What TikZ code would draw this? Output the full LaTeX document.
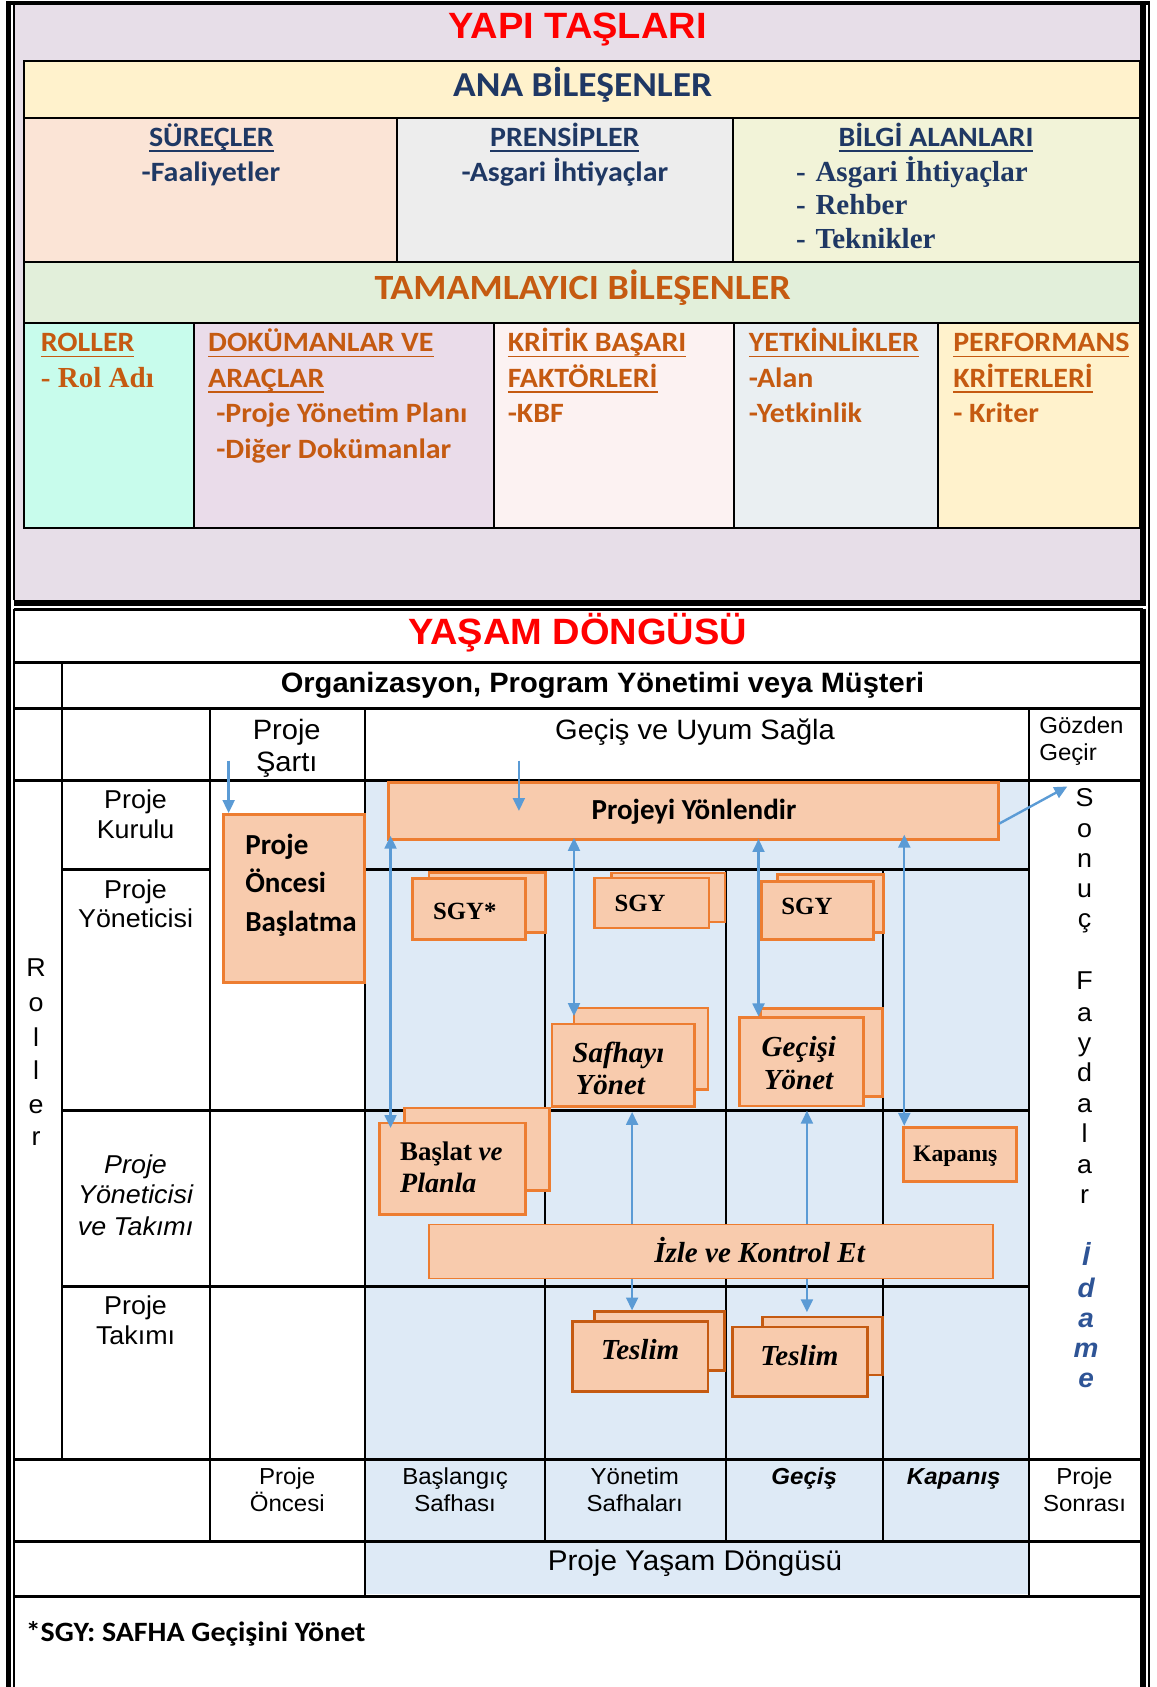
\documentclass[tikz,border=0pt]{standalone}
\usepackage{fontspec}
\setmainfont[FakeStretch=1.04]{Liberation Sans}
\newfontfamily\calfont[FakeStretch=1.07]{Carlito}
\newfontfamily\calbox{Carlito}
\newfontfamily\tmsfont{Liberation Serif}
\newcommand\myul[1]{\leavevmode\vtop{\hbox{\raisebox{0pt}[\height][0pt]{#1}}\kern3.5pt\hrule height 1.6pt}}
\usetikzlibrary{arrows.meta,fit,calc}
\newcommand\fsz[1]{\fontsize{#1}{#1}\selectfont}
\definecolor{lavbg}{RGB}{231,222,232}
\definecolor{anay}{RGB}{255,242,204}
\definecolor{navy}{RGB}{31,56,100}
\definecolor{surec}{RGB}{251,228,214}
\definecolor{prens}{RGB}{237,237,237}
\definecolor{bilgi}{RGB}{242,243,216}
\definecolor{tamam}{RGB}{226,239,218}
\definecolor{orng}{RGB}{197,90,17}
\definecolor{roll}{RGB}{200,252,236}
\definecolor{dokum}{RGB}{234,220,234}
\definecolor{krit}{RGB}{252,242,242}
\definecolor{yetk}{RGB}{234,239,242}
\definecolor{perf}{RGB}{255,242,204}
\definecolor{bluebg}{RGB}{222,234,246}
\definecolor{boxfill}{RGB}{248,203,173}
\definecolor{boxline}{RGB}{237,125,49}
\definecolor{tesline}{RGB}{197,90,17}
\definecolor{arrblue}{RGB}{91,155,213}
\definecolor{idame}{RGB}{46,84,150}
\tikzset{
  tx/.style={inner sep=0pt, outer sep=0pt},
  hl/.style={line width=2.8pt},
  vl/.style={line width=1.8pt},
  gl/.style={line width=2pt},
  obox/.style={draw=boxline, fill=boxfill, line width=2.6pt, inner sep=0pt},
  tbox/.style={obox, draw=tesline},
  thinbox/.style={obox, line width=1.3pt},
  arr/.style={draw=arrblue, line width=2.2pt, -{Triangle[width=11pt,length=12pt]}},
  darr/.style={draw=arrblue, line width=2.2pt, {Triangle[width=11pt,length=12pt]}-{Triangle[width=11pt,length=12pt]}},
  navyt/.style={tx, text=navy, font=\calfont\bfseries\fsz{26}},
  orgt/.style={tx, text=orng, font=\calfont\bfseries\fsz{26}},
  sert/.style={tx, font=\tmsfont\bfseries\fsz{27}},
  rolt/.style={tx, font=\fsz{24}},
  phat/.style={tx, font=\fsz{21.5}},
  lett/.style={tx, anchor=base, font=\fsz{24}},
  boxt/.style={tx, font=\calbox\bfseries\fsz{27}},
  boxs/.style={tx, font=\tmsfont\bfseries\itshape\fsz{27}},
}
\begin{document}
\begin{tikzpicture}[x=1pt,y=-1pt]
\useasboundingbox (0,0) rectangle (1075,1568);
\fill[white] (0,0) rectangle (1075,1568);
% ================= TOP SECTION =================
\fill[lavbg] (12.7,4.6) rectangle (1060,558);
\fill[anay] (22.3,56.7) rectangle (1060,110);
\fill[surec] (22.3,110) rectangle (369,243.5);
\fill[prens] (369,110) rectangle (681,243.5);
\fill[bilgi] (681,110) rectangle (1060,243.5);
\fill[tamam] (22.3,243.5) rectangle (1060,300.5);
\fill[roll] (22.3,300.5) rectangle (180.5,490.5);
\fill[dokum] (180.5,300.5) rectangle (459,490.5);
\fill[krit] (459,300.5) rectangle (682,490.5);
\fill[yetk] (682,300.5) rectangle (872,490.5);
\fill[perf] (872,300.5) rectangle (1060,490.5);
\draw[gl] (22.3,56.7) rectangle (1060,490.5);
\draw[gl] (22.3,110) -- (1060,110);
\draw[gl] (22.3,243.5) -- (1060,243.5);
\draw[gl] (22.3,300.5) -- (1060,300.5);
\draw[gl] (369,110) -- (369,243.5);
\draw[gl] (681,110) -- (681,243.5);
\draw[gl] (180.5,300.5) -- (180.5,490.5);
\draw[gl] (459,300.5) -- (459,490.5);
\draw[gl] (682,300.5) -- (682,490.5);
\draw[gl] (872,300.5) -- (872,490.5);
% frame
\draw[line width=3.7pt] (5.6,2.8) -- (1068.5,2.8);
\draw[line width=4.6pt] (7.9,0.9) -- (7.9,1568);
\draw[line width=1.9pt] (1067.5,4.6) -- (1067.5,1568);
\draw[line width=5.6pt] (1062.6,0.9) -- (1062.6,563.7);
\draw[line width=5.6pt] (12.7,560.9) -- (1065.4,560.9);
\draw[line width=1.9pt] (12.7,4.6) -- (12.7,558);
% top texts
\node[tx, anchor=base, text=red, font=\bfseries\fsz{34}] (yapi) at (537,35.6) {YAPI TAŞLARI};
\node[navyt, anchor=base, font=\calfont\bfseries\fsz{32.5}] (ana) at (541.5,89.8) {ANA BİLEŞENLER};
\node[navyt, anchor=base] (surec) at (196.5,136) {\myul{SÜREÇLER}};
\node[navyt, anchor=base] (faal) at (196,168.8) {-Faaliyetler};
\node[navyt, anchor=base] (prensip) at (525,136) {\myul{PRENSİPLER}};
\node[navyt, anchor=base] (asgari) at (525,168.8) {-Asgari İhtiyaçlar};
\node[navyt, anchor=base] (bilgial) at (870,136) {\myul{BİLGİ ALANLARI}};
\node[sert, text=navy, anchor=base west] (bl1) at (740,168.8) {-\hspace{9pt}Asgari İhtiyaçlar};
\node[sert, text=navy, anchor=base west] (bl2) at (740,199.8) {-\hspace{9pt}Rehber};
\node[sert, text=navy, anchor=base west] (bl3) at (740,230.7) {-\hspace{9pt}Teknikler};
\node[orgt, anchor=base, font=\calfont\bfseries\fsz{33}] (tamaml) at (541.5,278.5) {TAMAMLAYICI BİLEŞENLER};
\node[orgt, anchor=base west] (rol1) at (38,327) {\myul{ROLLER}};
\node[sert, text=orng, anchor=base west] (rol2) at (38,360) {- Rol Adı};
\node[orgt, anchor=base west] (dok1) at (193.5,327) {\myul{DOKÜMANLAR VE}};
\node[orgt, anchor=base west] (dok2) at (193.5,360) {\myul{ARAÇLAR}};
\node[orgt, anchor=base west] (dok3) at (201,393) {-Proje Yönetim Planı};
\node[orgt, anchor=base west] (dok4) at (201,426.5) {-Diğer Dokümanlar};
\node[orgt, anchor=base west] (krt1) at (472,327) {\myul{KRİTİK BAŞARI}};
\node[orgt, anchor=base west] (krt2) at (472,360) {\myul{FAKTÖRLERİ}};
\node[orgt, anchor=base west] (krt3) at (472,393) {-KBF};
\node[orgt, anchor=base west] (ytk1) at (696,327) {\myul{YETKİNLİKLER}};
\node[orgt, anchor=base west] (ytk2) at (696,360) {-Alan};
\node[orgt, anchor=base west] (ytk3) at (696,393) {-Yetkinlik};
\node[orgt, anchor=base west] (prf1) at (886,327) {\myul{PERFORMANS}};
\node[orgt, anchor=base west] (prf2) at (886,360) {\myul{KRİTERLERİ}};
\node[orgt, anchor=base west] (prf3) at (886,393) {- Kriter};
% ================= BOTTOM SECTION =================
\fill[bluebg] (339.5,725) rectangle (956,1482);
% horizontal lines
\draw[hl] (12.7,615.5) -- (1060,615.5);
\draw[hl] (12.7,658.5) -- (1060,658.5);
\draw[hl] (12.7,725.5) -- (1060,725.5);
\draw[hl] (57.5,808.5) -- (195,808.5);
\draw[hl] (339.5,808.5) -- (956,808.5);
\draw[hl] (57.5,1032) -- (956,1032);
\draw[hl] (57.5,1195.5) -- (956,1195.5);
\draw[hl] (12.7,1356.5) -- (1060,1356.5);
\draw[hl] (12.7,1432.5) -- (1060,1432.5);
\draw[hl] (12.7,1483.5) -- (1060,1483.5);
% vertical lines
\draw[vl] (57.5,615.5) -- (57.5,1356.5);
\draw[vl] (195,658.5) -- (195,1432.5);
\draw[vl] (339.5,658.5) -- (339.5,1483.5);
\draw[vl] (956,658.5) -- (956,1483.5);
\draw[vl] (506.5,808.5) -- (506.5,1432.5);
\draw[vl] (675,808.5) -- (675,1432.5);
\draw[vl] (821,808.5) -- (821,1432.5);
% frame of bottom section
\draw[line width=1.9pt] (12.7,566.5) -- (1062.6,566.5);
\draw[line width=1.9pt] (12.7,565.6) -- (12.7,1568);
\draw[line width=5.6pt] (1062.6,565.6) -- (1062.6,1568);
% header texts
\node[tx, anchor=base, text=red, font=\bfseries\fsz{34}] (yasam) at (537,599) {YAŞAM DÖNGÜSÜ};
\node[tx, anchor=base, font=\bfseries\fsz{26}] (org) at (560,643.5) {Organizasyon, Program Yönetimi veya Müşteri};
\node[tx, anchor=base, font=\fsz{26}] (ps1) at (266.5,687) {Proje};
\node[tx, anchor=base, font=\fsz{26}] (ps2) at (266.5,717) {Şartı};
\node[tx, anchor=base, font=\fsz{26}] (gecis) at (646,687) {Geçiş ve Uyum Sağla};
\node[tx, anchor=base west, font=\fsz{21.5}] (goz1) at (966,682) {Gözden};
\node[tx, anchor=base west, font=\fsz{21.5}] (goz2) at (966,707) {Geçir};
% role texts
\node[rolt, anchor=base] (pk1) at (126,751) {Proje};
\node[rolt, anchor=base] (pk2) at (126,779) {Kurulu};
\node[rolt, anchor=base] (py1) at (126,835) {Proje};
\node[rolt, anchor=base] (py2) at (126,862) {Yöneticisi};
\node[rolt, anchor=base, font=\itshape\fsz{24}] (pt1) at (126,1091) {Proje};
\node[rolt, anchor=base, font=\itshape\fsz{24}] (pt2) at (126,1119) {Yöneticisi};
\node[rolt, anchor=base, font=\itshape\fsz{24}] (pt3) at (126,1148) {ve Takımı};
\node[rolt, anchor=base] (ptk1) at (126,1222) {Proje};
\node[rolt, anchor=base] (ptk2) at (126,1250) {Takımı};
% vertical letters
\foreach \l/\y [count=\i] in {R/907.5,o/940,l/972.5,l/1003.5,e/1034.6,r/1065}
  \node[lett] (rl\i) at (33.5,\y) {\l};
\foreach \l/\y [count=\i] in {S/750,o/778.6,n/806.5,u/834,ç/862,F/920,a/949,y/977,d/1005,a/1034,l/1062,a/1091,r/1118.6}
  \node[lett] (sf\i) at (1008,\y) {\l};
\foreach \l/\y [count=\i] in {İ/1176,d/1206,a/1234,m/1262,e/1290}
  \node[lett, text=idame, font=\bfseries\itshape\fsz{25}] (id\i) at (1009.5,\y) {\l};
% phase row
\node[phat, anchor=base] (pho1) at (267,1380) {Proje};
\node[phat, anchor=base] (pho2) at (267,1404.5) {Öncesi};
\node[phat, anchor=base] (phb1) at (423,1380) {Başlangıç};
\node[phat, anchor=base] (phb2) at (423,1404.5) {Safhası};
\node[phat, anchor=base] (phy1) at (590,1380) {Yönetim};
\node[phat, anchor=base] (phy2) at (590,1404.5) {Safhaları};
\node[phat, anchor=base, font=\bfseries\itshape\fsz{21.5}] (phg) at (747.5,1380) {Geçiş};
\node[phat, anchor=base, font=\bfseries\itshape\fsz{21.5}] (phk) at (886.5,1380) {Kapanış};
\node[phat, anchor=base] (phs1) at (1008,1380) {Proje};
\node[phat, anchor=base] (phs2) at (1008,1404.5) {Sonrası};
\node[tx, anchor=base, font=\fsz{26.5}] (pyd) at (646,1460) {Proje Yaşam Döngüsü};
\node[tx, anchor=base west, font=\calfont\bfseries\fsz{26}] (foot) at (24,1526) {*SGY: SAFHA Geçişini Yönet};
% ================= PROCESS BOXES =================
\node[obox, fit={(207.5,757) (339,913.5)}] (pob) {};
\node[boxt, anchor=base west] (pob1) at (228,794.5) {Proje};
\node[boxt, anchor=base west] (pob2) at (228,829.4) {Öncesi};
\node[boxt, anchor=base west] (pob3) at (228,865.6) {Başlatma};
\node[obox, fit={(361,727) (928,780.5)}] (pyy) {};
\node[boxt, anchor=base] (pyyt) at (645,762) {Projeyi Yönlendir};
% SGY boxes
\node[obox, fit={(398.7,810.8) (507,866.6)}] (sgy1b) {};
\node[obox, fit={(383.7,816.7) (488.4,873.4)}] (sgy1) {};
\node[tx, anchor=base, font=\tmsfont\bfseries\fsz{23}] (sgy1t) at (432,854.8) {SGY*};
\node[obox, fit={(568.4,811.4) (673.8,857)}] (sgy2b) {};
\node[obox, fit={(552.8,816) (659,862.5)}] (sgy2) {};
\node[tx, anchor=base, font=\tmsfont\bfseries\fsz{23}] (sgy2t) at (595,847) {SGY};
\node[obox, fit={(722.8,813) (821,867)}] (sgy3b) {};
\node[obox, fit={(708,819) (812,873.4)}] (sgy3) {};
\node[tx, anchor=base, font=\tmsfont\bfseries\fsz{23}] (sgy3t) at (750,850) {SGY};
% Safhayi Yonet
\node[obox, fit={(533.5,936.8) (658,1012.7)}] (sfyb) {};
\node[obox, fit={(513,951.7) (645.4,1028.2)}] (sfy) {};
\node[boxs, anchor=base west] (sfy1) at (532,988) {Safhayı};
\node[boxs, anchor=base west] (sfy2) at (535,1017.4) {Yönet};
% Gecisi Yonet
\node[obox, fit={(707,937) (820,1019)}] (gcyb) {};
\node[obox, fit={(687,946) (802.7,1028)}] (gcy) {};
\node[boxs, anchor=base west] (gcy1) at (708,981.7) {Geçişi};
\node[boxs, anchor=base west] (gcy2) at (710,1012.7) {Yönet};
% Baslat ve Planla
\node[obox, fit={(376,1029.8) (510.8,1106.3)}] (bvpb) {};
\node[obox, fit={(352.4,1043.7) (488.4,1128.9)}] (bvp) {};
\node[tx, anchor=base west, font=\tmsfont\bfseries\fsz{25}] (bvp1) at (372,1078.4) {Başlat \textit{ve}};
\node[tx, anchor=base west, font=\tmsfont\bfseries\itshape\fsz{26}] (bvp2) at (372,1108.7) {Planla};
% Kapanis
\node[obox, fit={(839.7,1047.7) (945,1098.5)}] (kap) {};
\node[tx, anchor=base west, font=\tmsfont\bfseries\fsz{22}] (kapt) at (848.8,1079.3) {Kapanış};
% Izle ve Kontrol Et
\node[thinbox, fit={(398.7,1138) (923,1188.4)}] (izle) {};
\node[boxs, anchor=base] (izlet) at (706,1173.2) {İzle ve Kontrol Et};
% Teslim boxes
\node[tbox, fit={(552.8,1219.3) (673.4,1273.5)}] (tes1b) {};
\node[tbox, fit={(532,1228.6) (658,1293.6)}] (tes1) {};
\node[boxs, anchor=base] (tes1t) at (595,1263.6) {Teslim};
\node[tbox, fit={(709,1224) (820,1278)}] (tes2b) {};
\node[tbox, fit={(680.6,1233.3) (806,1297.7)}] (tes2) {};
\node[boxs, anchor=base] (tes2t) at (743,1268.9) {Teslim};
% ================= ARROWS =================
\coordinate (a1) at (212.5,707);
\coordinate (a2) at (482.3,707);
\coordinate (c1) at (363,0);
\coordinate (c2) at (533.5,0);
\coordinate (c3) at (705,0);
\coordinate (c4) at (840.5,0);
\coordinate (c5) at (587.5,0);
\coordinate (c6) at (750,0);
\coordinate (sonucA) at (992,731);
\draw[arr] (a1) -- (pob.north -| a1);
\draw[arr] (a2) -- (pyy.center -| a2);
\draw[darr] ($(pyy.south -| c1)+(0,-5)$) -- ($(bvp.north -| c1)+(0,6)$);
\draw[darr] ($(pyy.south -| c2)+(0,-3)$) -- ($(sfy.north -| c2)+(0,-6)$);
\draw[darr] ($(pyy.south -| c3)+(0,-2)$) -- (gcy.north -| c3);
\draw[darr] ($(pyy.south -| c4)+(0,-6)$) -- (kap.north -| c4);
\draw[arr] (izle.north -| c5) -- ($(sfy.south -| c5)+(0,4)$);
\draw[arr] (izle.north -| c6) -- ($(gcy.south -| c6)+(0,3)$);
\draw[arr] (izle.south -| c5) -- (tes1b.north -| c5);
\draw[arr] (izle.south -| c6) -- ($(tes2b.north -| c6)+(0,-3)$);
\draw[arr] ($(pyy.east)+(-1,12)$) -- (sonucA);
\end{tikzpicture}
\end{document}
